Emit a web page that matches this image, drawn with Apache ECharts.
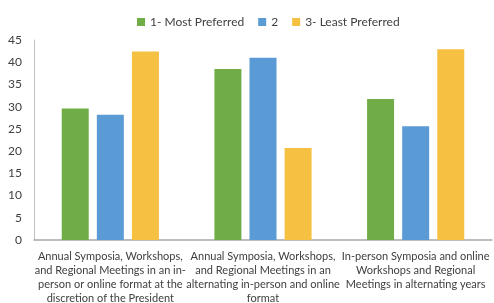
<!DOCTYPE html>
<html>
<head>
<meta charset="utf-8">
<script src="https://cdn.jsdelivr.net/npm/echarts@6/dist/echarts.min.js"></script>
<style>
  html, body { margin: 0; padding: 0; background: #fff; }
  #chart { width: 494px; height: 303px; }
</style>
</head>
<body>
<div id="chart"></div>
<script>
// chart data
const categories = [
  'Annual Symposia, Workshops,\nand Regional Meetings in an in-\nperson or online format at the\ndiscretion of the President',
  'Annual Symposia, Workshops,\nand Regional Meetings in an\nalternating in-person and online\nformat',
  'In-person Symposia and online\nWorkshops and Regional\nMeetings in alternating years'
]
const seriesNames = ['1- Most Preferred', '2', '3- Least Preferred']
const mostPreferred = [29.6, 38.5, 31.7]
const secondChoice = [28.2, 41.0, 25.6]
const leastPreferred = [42.4, 20.7, 42.9]
const yTicks = { min: 0, max: 45, interval: 5 }

const colors = ['#70ad47', '#5b9bd5', '#f6c142']
const font = 'Lato, "Open Sans", sans-serif'

const myChart = echarts.init(document.getElementById('chart'))

const option = {
  animation: false,
  color: colors,
  textStyle: { fontFamily: font },
  legend: {
    top: 11,
    left: 132,
    itemWidth: 8,
    itemHeight: 8,
    itemGap: 14,
    icon: 'rect',
    textStyle: { color: '#404040', fontSize: 12, fontFamily: font },
    data: seriesNames
  },
  grid: {
    left: 34,
    right: 2,
    top: 40,
    bottom: 63,
    outerBoundsMode: 'none'
  },
  xAxis: {
    type: 'category',
    data: categories,
    axisTick: { show: false },
    axisLine: { lineStyle: { color: '#a6a6a6', width: 1.5 } },
    axisLabel: {
      interval: 0,
      color: '#404040',
      fontSize: 11,
      lineHeight: 14,
      margin: 9,
      fontFamily: font
    }
  },
  yAxis: {
    type: 'value',
    min: yTicks.min,
    max: yTicks.max,
    interval: yTicks.interval,
    splitLine: { show: false },
    axisLine: { show: true, lineStyle: { color: '#bfbfbf' } },
    axisTick: { show: false },
    axisLabel: { color: '#404040', fontSize: 12, margin: 12, fontFamily: font }
  },
  series: [
    { name: seriesNames[0], type: 'bar', data: mostPreferred, barWidth: 27, barGap: '30%' },
    { name: seriesNames[1], type: 'bar', data: secondChoice, barWidth: 27, barGap: '30%' },
    { name: seriesNames[2], type: 'bar', data: leastPreferred, barWidth: 27, barGap: '30%' }
  ]
}

myChart.setOption(option)
</script>
</body>
</html>
